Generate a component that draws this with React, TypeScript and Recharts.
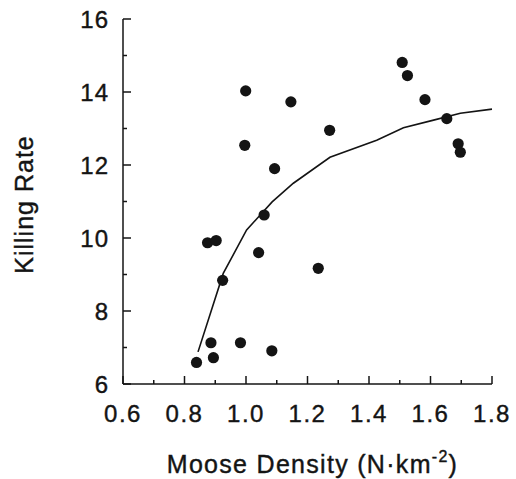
import React from 'react';
import { ScatterChart, Scatter, XAxis, YAxis, Label } from 'recharts';

// observed winters: moose density vs killing rate
const densityObs = [0.839, 0.886, 0.894, 0.875, 0.903, 0.924, 0.982, 0.999, 0.996, 1.041, 1.059, 1.084, 1.093, 1.146, 1.235, 1.272, 1.508, 1.525, 1.582, 1.653, 1.69, 1.697];
const killObs = [6.59, 7.13, 6.72, 9.87, 9.93, 8.84, 7.13, 14.03, 12.54, 9.6, 10.63, 6.91, 11.9, 13.73, 9.17, 12.95, 14.81, 14.45, 13.79, 13.27, 12.58, 12.35];

// fitted functional response curve
const curveDensity = [0.844, 0.926, 1.002, 1.085, 1.154, 1.273, 1.425, 1.512, 1.61, 1.697, 1.8];
const curveKill = [6.88, 9.03, 10.22, 10.99, 11.5, 12.21, 12.68, 13.02, 13.23, 13.42, 13.53];

const xTicks = [0.6, 0.7, 0.8, 0.9, 1.0, 1.1, 1.2, 1.3, 1.4, 1.5, 1.6, 1.7, 1.8];
const yTicks = [6, 7, 8, 9, 10, 11, 12, 13, 14, 15, 16];

const points = densityObs.map((x, i) => ({ x, y: killObs[i] }));
const curve = curveDensity.map((x, i) => ({ x, y: curveKill[i] }));

const FONT = '"Liberation Sans", Arial, Helvetica, sans-serif';
const INK = '#141414';

const YTick = (props: any) => {
  const { x, y, payload } = props;
  const major = payload.value % 2 === 0;
  return (
    <g>
      <line x1={x} x2={x + (major ? 8 : 4)} y1={y} y2={y} stroke={INK} strokeWidth={1.5} />
      {major && (
        <text x={x - 14} y={y} textAnchor="end" dominantBaseline="central" fontSize={24} fill={INK} stroke={INK} strokeWidth={0.4} fontFamily={FONT} letterSpacing={1}>
          {payload.value}
        </text>
      )}
    </g>
  );
};

const XTick = (props: any) => {
  const { x, y, payload, index } = props;
  const major = index % 2 === 0;
  return (
    <g>
      <line x1={x} x2={x} y1={y} y2={y - (major ? 8 : 4)} stroke={INK} strokeWidth={1.5} />
      {major && (
        <text x={x} y={y + 37.5} textAnchor="middle" fontSize={24} fill={INK} stroke={INK} strokeWidth={0.4} fontFamily={FONT} letterSpacing={1.5}>
          {Number(payload.value).toFixed(1)}
        </text>
      )}
    </g>
  );
};

const NoDot = () => <g />;
const Dot = (props: any) => <circle cx={props.cx} cy={props.cy} r={5.6} fill={INK} />;

export default function App() {
  return (
    <div style={{ position: 'absolute', left: 0, top: 0, background: '#fff' }}>
      <ScatterChart width={516} height={479} margin={{ top: 19, right: 24, bottom: 0, left: 0 }}>
        <XAxis
          type="number"
          dataKey="x"
          domain={[0.6, 1.8]}
          ticks={xTicks}
          interval={0}
          height={95}
          tickSize={0}
          tickMargin={0}
          tickLine={false}
          axisLine={{ stroke: INK, strokeWidth: 1.5 }}
          tick={XTick}
        >
          <Label
            content={(p: any) => {
              const vb = p.viewBox;
              return (
                <text x={vb.x + vb.width / 2 + 5} y={vb.y + 89} textAnchor="middle" fontSize={25} fill={INK} stroke={INK} strokeWidth={0.4} fontFamily={FONT} letterSpacing={1.3}>
                  Moose Density (N·km
                  <tspan dy={-11} fontSize={16}>-2</tspan>
                  <tspan dy={11}>)</tspan>
                </text>
              );
            }}
          />
        </XAxis>
        <YAxis
          type="number"
          dataKey="y"
          domain={[6, 16]}
          ticks={yTicks}
          interval={0}
          width={123}
          tickSize={0}
          tickMargin={0}
          tickLine={false}
          axisLine={{ stroke: INK, strokeWidth: 1.5 }}
          tick={YTick}
        >
          <Label
            content={(p: any) => {
              const vb = p.viewBox;
              const cx = vb.x + 33;
              const cy = vb.y + vb.height / 2 + 3;
              return (
                <text x={cx} y={cy} transform={`rotate(-90 ${cx} ${cy})`} textAnchor="middle" fontSize={25} fill={INK} stroke={INK} strokeWidth={0.4} fontFamily={FONT} letterSpacing={1}>
                  Killing Rate
                </text>
              );
            }}
          />
        </YAxis>
        <Scatter
          data={curve}
          line={{ stroke: INK, strokeWidth: 1.6 }}
          shape={NoDot}
          isAnimationActive={false}
        />
        <Scatter data={points} fill={INK} shape={Dot} isAnimationActive={false} />
      </ScatterChart>
    </div>
  );
}
